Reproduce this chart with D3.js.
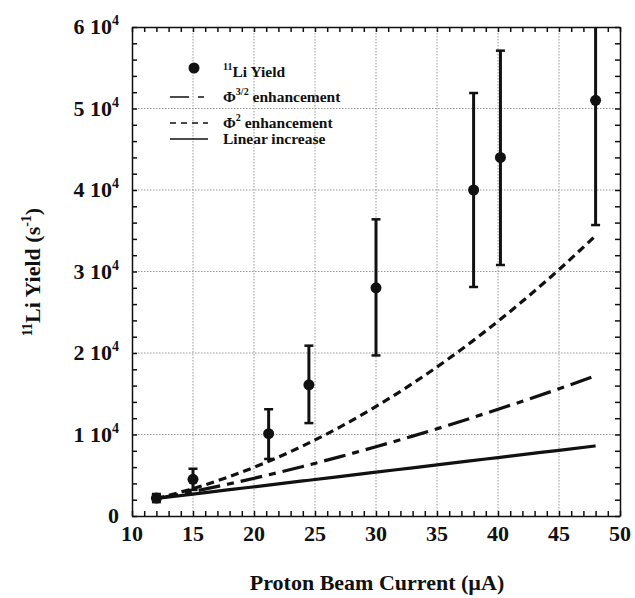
<!DOCTYPE html>
<html><head><meta charset="utf-8">
<script src="https://cdn.jsdelivr.net/npm/d3@7"></script>
<style>body{margin:0;background:#fff}svg{display:block}</style>
</head><body><svg id="c" width="635" height="598" font-family="'Liberation Serif', 'Times New Roman', 'DejaVu Serif', serif" font-weight="bold"></svg>
<script>
const currents = [12, 15, 21.2, 24.5, 30, 38, 40.2, 48];
const yields   = [2200, 4500, 10100, 16100, 28000, 40000, 44000, 51000];
const errLow   = [1700, 3200, 7000, 11400, 19700, 28100, 30800, 35700];
const errHigh  = [2700, 5800, 13100, 20900, 36400, 51900, 57100, 66000];
const curveX   = [12, 15, 18, 21, 24, 27, 30, 33, 36, 39, 42, 45, 48];
const linear   = [2150, 2690, 3230, 3760, 4300, 4840, 5380, 5910, 6450, 6990, 7530, 8060, 8600];
const phi32    = [2150, 3000, 3950, 4980, 6080, 7260, 8500, 9800, 11170, 12600, 14080, 15610, 17200];
const phi2     = [2150, 3360, 4840, 6580, 8600, 10880, 13440, 16260, 19350, 22710, 26340, 30230, 34400];
const xTicks   = [10, 15, 20, 25, 30, 35, 40, 45, 50];
const yTicks   = [0, 10000, 20000, 30000, 40000, 50000, 60000];
const yTickMant = ["0", "1", "2", "3", "4", "5", "6"];

const svg = d3.select("#c");
const L = 132, R = 620, T = 27, B = 516;
const x = d3.scaleLinear().domain([10, 50]).range([L, R]);
const y = d3.scaleLinear().domain([0, 60000]).range([B, T]);

svg.append("defs").append("clipPath").attr("id","clip").append("rect")
  .attr("x", L).attr("y", T).attr("width", R-L).attr("height", B-T);

// grid
const g = svg.append("g");
g.selectAll(".gx").data(xTicks.slice(1,-1)).join("line")
  .attr("x1", d=>x(d)).attr("x2", d=>x(d)).attr("y1", T).attr("y2", B)
  .attr("stroke", "#999").attr("stroke-width", 1).attr("stroke-dasharray", "1.5,1.5");
g.selectAll(".gy").data(yTicks.slice(1,-1)).join("line")
  .attr("y1", d=>y(d)).attr("y2", d=>y(d)).attr("x1", L).attr("x2", R)
  .attr("stroke", "#999").attr("stroke-width", 1).attr("stroke-dasharray", "1.5,1.5");

// axes with inward ticks
const xMinor = d3.range(10, 50.01, 1);
const yMinor = d3.range(0, 60001, 2000);
function style(a){ a.selectAll("line,path").attr("stroke","#111").attr("stroke-width",1.5); }
svg.append("g").attr("transform", `translate(0,${B})`)
  .call(d3.axisBottom(x).tickValues(xMinor).tickSizeInner(-5).tickSizeOuter(0).tickFormat("")).call(style);
svg.append("g").attr("transform", `translate(0,${T})`)
  .call(d3.axisTop(x).tickValues(xMinor).tickSizeInner(-5).tickSizeOuter(0).tickFormat("")).call(style);
svg.append("g").attr("transform", `translate(${L},0)`)
  .call(d3.axisLeft(y).tickValues(yMinor).tickSizeInner(-5).tickSizeOuter(0).tickFormat("")).call(style);
svg.append("g").attr("transform", `translate(${R},0)`)
  .call(d3.axisRight(y).tickValues(yMinor).tickSizeInner(-5).tickSizeOuter(0).tickFormat("")).call(style);

// tick labels
svg.selectAll(".xl").data(xTicks).join("text")
  .attr("x", d=>x(d)).attr("y", B+25).attr("text-anchor","middle")
  .attr("font-size", 22).attr("fill","#111").text(d=>d);
yTicks.forEach((v,i)=>{
  const t = svg.append("text").attr("x", 119).attr("y", y(v)+7).attr("text-anchor","end").attr("font-size",22).attr("fill","#111");
  if (v === 0) { t.text("0"); return; }
  t.append("tspan").text(yTickMant[i] + " 10");
  t.append("tspan").attr("dy", -9).attr("font-size", 14).text("4");
});

// axis titles
svg.append("text").attr("x", 377).attr("y", 590).attr("text-anchor","middle").attr("font-size",22).attr("fill","#111")
  .text("Proton Beam Current (\u00B5A)");
const yt = svg.append("text").attr("transform", "translate(40,272) rotate(-90)").attr("text-anchor","middle").attr("font-size",22).attr("fill","#111");
yt.append("tspan").attr("font-size",14).attr("dy",-8).text("11");
yt.append("tspan").attr("dy",8).text("Li Yield (s");
yt.append("tspan").attr("font-size",14).attr("dy",-9).text("-1");
yt.append("tspan").attr("dy",9).text(")");

// curves
const plot = svg.append("g").attr("clip-path","url(#clip)");
const line = d3.line().x(d=>x(d[0])).y(d=>y(d[1])).curve(d3.curveMonotoneX);
const curves = [
  {vals: linear, dash: null},
  {vals: phi32, dash: "22,7,7,7"},
  {vals: phi2, dash: "8,5"}
];
curves.forEach(c=>{
  plot.append("path").datum(curveX.map((cx,i)=>[cx, c.vals[i]]))
    .attr("d", line).attr("fill","none").attr("stroke","#111").attr("stroke-width",3.2)
    .attr("stroke-dasharray", c.dash);
});

// error bars
const pts = currents.map((c,i)=>({c, v: yields[i], lo: errLow[i], hi: errHigh[i]}));
plot.selectAll(".eb").data(pts).join("line")
  .attr("x1", d=>x(d.c)).attr("x2", d=>x(d.c)).attr("y1", d=>y(d.lo)).attr("y2", d=>y(d.hi))
  .attr("stroke","#111").attr("stroke-width",3);
["lo","hi"].forEach(k=>{
  plot.selectAll(".cap"+k).data(pts).join("line")
    .attr("x1", d=>x(d.c)-4.5).attr("x2", d=>x(d.c)+4.5).attr("y1", d=>y(d[k])).attr("y2", d=>y(d[k]))
    .attr("stroke","#111").attr("stroke-width",2.5);
});
plot.selectAll(".pt").data(pts).join("circle")
  .attr("cx", d=>x(d.c)).attr("cy", d=>y(d.v)).attr("r", 5.5).attr("fill","#111");

// legend
const lg = svg.append("g").attr("font-size",15.5).attr("fill","#111");
lg.append("circle").attr("cx",194).attr("cy",68).attr("r",5.5).attr("fill","#111");
const t1 = lg.append("text").attr("x",223).attr("y",77);
t1.append("tspan").attr("font-size",10).attr("dy",-7).text("11");
t1.append("tspan").attr("dy",7).text("Li Yield");
const rows = [
  {y: 97, dash: "19,9,6,40", sup: "3/2", label: " enhancement"},
  {y: 123, dash: "6,5", sup: "2", label: " enhancement"},
  {y: 139, dash: null, sup: null, label: "Linear increase"}
];
rows.forEach(r=>{
  lg.append("line").attr("x1",170).attr("x2",208).attr("y1",r.y).attr("y2",r.y)
    .attr("stroke","#111").attr("stroke-width",1.5).attr("stroke-dasharray", r.dash);
  const t = lg.append("text").attr("x",223).attr("y",r.y+5);
  if (r.sup) {
    t.append("tspan").text("\u03A6");
    t.append("tspan").attr("font-size",10).attr("dy",-7).text(r.sup);
    t.append("tspan").attr("dy",7).text(r.label);
  } else t.text(r.label);
});
</script></body></html>
